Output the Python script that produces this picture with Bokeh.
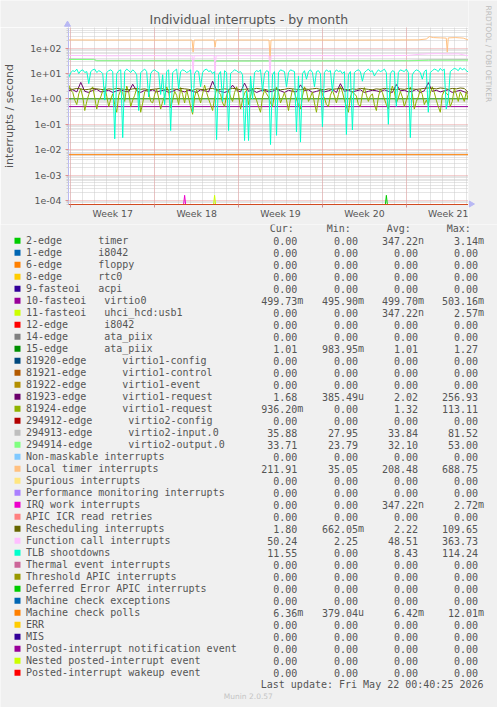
import re
import math
from datetime import datetime, timedelta
import numpy as np
from bokeh.plotting import figure
from bokeh.layouts import column, row
from bokeh.models import Range1d, FixedTicker, Grid, CustomJSTickFormatter
from bokeh.embed import file_html
from bokeh.resources import INLINE
from bokeh.core.properties import value

# ---------------- data ----------------
X_START = datetime(2026, 4, 18, 19, 25)
X_END = datetime(2026, 5, 22, 4, 30)
DATA_START = datetime(2026, 4, 18, 20, 0)
Y_MIN, Y_MAX = 6.96e-5, 654.0

TITLE = "Individual interrupts - by month"
Y_LABEL = "interrupts / second"
WATERMARK = "RRDTOOL / TOBI OETIKER"
WEEK_STARTS = [datetime(2026, 4, 19), datetime(2026, 4, 26), datetime(2026, 5, 3),
               datetime(2026, 5, 10), datetime(2026, 5, 17)]
WEEK_LABELS = ["Week 17", "Week 18", "Week 19", "Week 20", "Week 21"]
Y_TICKS = [1e-4, 1e-3, 1e-2, 1e-1, 1e0, 1e1, 1e2]
Y_TICK_LABELS = ["1e-04", "1e-03", "1e-02", "1e-01", "1e+00", "1e+01", "1e+02"]

LABELS = [
    "2-edge      timer", "1-edge      i8042", "6-edge      floppy", "8-edge      rtc0",
    "9-fasteoi   acpi", "10-fasteoi   virtio0", "11-fasteoi   uhci_hcd:usb1",
    "12-edge      i8042", "14-edge      ata_piix", "15-edge      ata_piix",
    "81920-edge      virtio1-config", "81921-edge      virtio1-control",
    "81922-edge      virtio1-event", "81923-edge      virtio1-request",
    "81924-edge      virtio1-request", "294912-edge      virtio2-config",
    "294913-edge      virtio2-input.0", "294914-edge      virtio2-output.0",
    "Non-maskable interrupts", "Local timer interrupts", "Spurious interrupts",
    "Performance monitoring interrupts", "IRQ work interrupts", "APIC ICR read retries",
    "Rescheduling interrupts", "Function call interrupts", "TLB shootdowns",
    "Thermal event interrupts", "Threshold APIC interrupts", "Deferred Error APIC interrupts",
    "Machine check exceptions", "Machine check polls", "ERR", "MIS",
    "Posted-interrupt notification event", "Nested posted-interrupt event",
    "Posted-interrupt wakeup event",
]
COLORS = [
    "#00CC00", "#0066B3", "#FF8000", "#FFCC00", "#330099", "#990099", "#CCFF00", "#FF0000",
    "#808080", "#008F00", "#00487D", "#B35A00", "#B38F00", "#6B006B", "#8FB300", "#B30000",
    "#BEBEBE", "#80FF80", "#80C9FF", "#FFC080", "#FFE680", "#AA80FF", "#EE00CC", "#FF8080",
    "#666600", "#FFBFFF", "#00FFCC", "#CC6699", "#999900", "#00CC00", "#0066B3", "#FF8000",
    "#FFCC00", "#330099", "#990099", "#CCFF00", "#FF0000",
]
CUR = [0, 0, 0, 0, 0, 0.49973, 0, 0, 0, 1.01, 0, 0, 0, 1.68, 0.9362, 0, 35.88, 33.71, 0,
       211.91, 0, 0, 0, 0, 1.80, 50.24, 11.55, 0, 0, 0, 0, 0.00636, 0, 0, 0, 0, 0]
MIN = [0, 0, 0, 0, 0, 0.4959, 0, 0, 0, 0.98395, 0, 0, 0, 385.49e-6, 0, 0, 27.95, 23.79, 0,
       35.05, 0, 0, 0, 0, 0.66205, 2.25, 0, 0, 0, 0, 0, 379.04e-6, 0, 0, 0, 0, 0]
AVG = [347.22e-9, 0, 0, 0, 0, 0.4997, 347.22e-9, 0, 0, 1.01, 0, 0, 0, 2.02, 1.32, 0, 33.84,
       32.10, 0, 208.48, 0, 0, 347.22e-9, 0, 2.22, 48.51, 8.43, 0, 0, 0, 0, 6.42e-3, 0, 0, 0, 0, 0]
MAX = [3.14e-3, 0, 0, 0, 0, 0.50316, 2.57e-3, 0, 0, 1.27, 0, 0, 0, 256.93, 113.11, 0, 81.52,
       53.00, 0, 688.75, 0, 0, 2.72e-3, 0, 109.65, 363.73, 114.24, 0, 0, 0, 0, 12.01e-3, 0, 0, 0, 0, 0]
HEADERS = ["Cur:", "Min:", "Avg:", "Max:"]
LAST_UPDATE = "Last update: Fri May 22 00:40:25 2026"
VERSION = "Munin 2.0.57"

# --- series sampled every 4 hours from DATA_START ---
TLB = [7, 11, 13, 12, 15, 10, 13, 14, 11, 12,
       4, 12, 14, 15, 11, 13, 12, 10, 0.9, 11,
       13, 14, 12, 0.027, 10, 13, 14, 0.03, 12, 15,
       13, 11, 14, 12, 9, 0.35, 11, 13, 15, 12,
       1.2, 10, 13, 14, 12, 11, 1.5, 9, 0.6, 12,
       14, 0.057, 11, 13, 15, 2.5, 12, 14, 13, 11,
       12, 14, 0.3, 10, 13, 12, 3, 11, 14, 15,
       12, 13, 10, 12, 0.025, 9, 12, 0.8, 13, 11,
       0.057, 10, 12, 14, 13, 11, 12, 9, 0.023, 2,
       0.023, 8, 1.0, 11, 13, 12, 14, 2.0, 10, 13,
       12, 0.016, 9, 12, 0.037, 11, 14, 13, 12, 3,
       11, 14, 13, 12, 0.05, 8, 0.02, 10, 13, 6,
       12, 14, 11, 3, 12, 13, 10, 0.08, 11, 14,
       12, 13, 2, 11, 14, 12, 13, 10, 12, 0.04,
       9, 12, 0.06, 11, 13, 14, 12, 5, 11, 13,
       15, 12, 13, 8, 11, 14, 12, 13, 15, 11,
       0.1, 10, 13, 12, 0.5, 11, 14, 13, 12, 15,
       11, 0.03, 9, 12, 14, 13, 11, 6, 12, 14,
       0.3, 11, 13, 15, 14, 12, 16, 13, 15, 0.4,
       1, 12, 14, 16, 15, 13, 17, 14, 16, 13, 11.55]
VIRTIO1_REQ_B = [3.5, 2.2, 1.8, 0.9, 0.6, 1.6, 2.5, 1.2, 0.35, 0.8,
                 1.5, 2.4, 3.0, 1.1, 0.4, 0.9, 1.2, 2.1, 2.8, 1.3,
                 0.5, 1.0, 1.6, 0.6, 0.3, 1.4, 2.2, 1.8, 0.8, 3.2,
                 1.9, 0.5, 0.9, 1.4, 2.6, 1.7, 0.3, 0.7, 1.9, 2.3,
                 1.9, 0.8, 0.7, 1.5, 2.4, 1.1, 0.4, 0.8, 1.3, 3.0,
                 2.0, 0.45, 0.9, 2.0, 1.4, 0.6, 2.8, 1.5, 0.7, 2.3,
                 1.1, 0.5, 0.25, 1.2, 2.3, 1.3, 0.7, 1.6, 3.5, 1.8,
                 1.0, 0.6, 0.35, 1.1, 2.5, 1.9, 1.5, 0.7, 0.5, 1.4,
                 2.1, 1.2, 0.8, 1.8, 3.0, 1.6, 0.4, 0.9, 1.7, 2.2,
                 0.6, 1.3, 2.7, 1.4, 0.9, 0.5, 0.3, 1.2, 2.2, 1.6,
                 1.2, 0.7, 0.5, 1.5, 2.9, 1.8, 0.7, 1.1, 1.8, 0.9,
                 0.35, 1.0, 2.4, 1.7, 1.0, 0.6, 0.4, 1.3, 3.0, 2.0,
                 0.8, 1.2, 1.9, 0.7, 0.3, 1.1, 2.6, 1.5, 1.1, 0.6,
                 0.5, 1.4, 2.2, 1.3, 0.7, 1.5, 3.1, 1.9, 0.9, 0.5,
                 0.3, 1.2, 2.0, 1.6, 1.3, 0.6, 0.5, 1.6, 2.8, 1.4,
                 0.8, 1.3, 1.6, 0.6, 0.35, 1.2, 2.5, 1.8, 1.0, 0.6,
                 0.4, 1.5, 3.2, 1.9, 0.7, 1.1, 2.0, 1.2, 0.5, 0.9,
                 1.5, 2.9, 1.6, 0.4, 0.8, 1.2, 2.4, 1.5, 0.6, 0.9,
                 0.6, 1.7, 3.0, 1.8, 0.9, 0.5, 0.3, 1.4, 2.1, 1.7,
                 1.4, 0.5, 0.8, 2.6, 1.6, 0.8, 1.9, 1.3, 0.8, 1.9, 0.94]
# --- series sampled every 8 hours from DATA_START ---
VIRTIO1_REQ_A = [2.1, 2.3, 1.9, 4.5, 2.0, 1.8, 2.2, 2.4, 1.9, 2.0,
                 2.2, 1.8, 2.1, 2.3, 2.0, 1.9, 3.8, 2.1, 1.8, 2.2,
                 2.0, 2.3, 1.9, 2.1, 2.2, 1.8, 2.0, 2.4, 2.1, 1.9,
                 2.2, 2.0, 1.8, 2.3, 2.1, 1.9, 5.0, 2.2, 2.0, 1.8,
                 2.1, 3.5, 2.2, 1.9, 4.2, 2.0, 2.3, 1.8, 2.1, 2.2,
                 1.9, 2.0, 2.4, 2.1, 1.8, 2.2, 2.0, 1.9, 3.6, 2.1,
                 2.3, 1.8, 2.0, 2.2, 1.9, 2.1, 2.4, 1.8, 4.0, 2.0,
                 2.2, 1.9, 2.1, 2.3, 1.8, 2.0, 2.2, 2.1, 1.9, 2.3,
                 2.0, 1.8, 3.7, 2.1, 2.2, 1.9, 2.0, 2.4, 1.8, 2.1,
                 4.4, 2.0, 2.2, 1.9, 2.1, 2.3, 1.8, 2.0, 2.2, 1.9, 1.68]
RESCHED = [2.5, 2.4, 2.6, 2.5, 2.3, 2.4, 2.6, 2.5, 2.4, 2.3,
           2.5, 2.4, 2.6, 2.5, 2.4, 2.3, 2.5, 2.6, 2.4, 2.5,
           2.3, 2.4, 2.5, 2.6, 2.4, 2.3, 2.5, 2.4, 2.6, 2.5,
           2.4, 2.2, 2.5, 2.4, 2.3, 2.5, 2.6, 2.3, 2.4, 2.5,
           2.4, 2.6, 2.5, 2.3, 2.4, 2.5, 2.4, 2.6, 2.5, 2.4,
           2.2, 2.4, 2.5, 2.3, 2.4, 2.6, 2.5, 2.4, 2.3, 2.5,
           2.4, 2.5, 2.6, 2.4, 2.3, 2.5, 2.4, 2.5, 2.6, 2.4,
           2.3, 2.5, 2.4, 2.6, 2.5, 2.4, 2.3, 2.5, 2.4, 2.6,
           2.5, 2.4, 2.3, 2.5, 2.4, 2.6, 2.5, 2.4, 2.5, 2.6,
           2.7, 2.6, 2.5, 2.7, 2.6, 2.4, 2.6, 2.5, 2.7, 2.6, 1.80]
# --- series read at individual times (hours after DATA_START) ---
LOCAL_TIMER_H = [0, 60, 120, 180, 247, 249, 251, 291, 293, 295, 340, 401, 403, 405,
                 480, 560, 640, 700, 716, 722, 730, 745, 756, 758, 760, 775, 790, 800]
LOCAL_TIMER = [212, 210, 211, 209, 210, 70, 210, 211, 110, 210, 211, 210, 35, 210,
               211, 209, 211, 213, 230, 285, 262, 255, 250, 70, 255, 262, 250, 211.91]
CALL_H = [0, 80, 160, 247, 249, 251, 291, 293, 295, 340, 401, 403, 405, 500, 600,
          680, 700, 720, 740, 760, 780, 800]
CALL = [52, 50, 51, 50, 10, 50, 51, 11, 50, 51, 50, 8, 50, 51, 50,
        52, 57, 60, 61, 59, 60, 50.24]
VIRTIO2_H = [0, 50, 56, 291, 293, 295, 680, 720, 800]
VIRTIO2_OUT = [36, 35.5, 32, 32, 26, 31, 32, 33.5, 33.71]
VIRTIO2_IN = [37.5, 37, 33.5, 33.5, 28, 32.5, 33.5, 35, 35.88]
CONST_H = [-1, 801]
VIRTIO0 = [0.4997, 0.4997]
ATA_PIIX_15 = [1.01, 1.01]
MCE_POLLS = [0.0064, 0.0064]
ZERO = [0, 0]
TIMER_SPIKE_H, TIMER_SPIKE = [-1, 634, 636, 638, 801], [0, 0, 1.6e-4, 0, 0]
USB_SPIKE_H, USB_SPIKE = [-1, 290, 292, 294, 801], [0, 0, 1.6e-4, 0, 0]
IRQ_WORK_SPIKE_H, IRQ_WORK_SPIKE = [-1, 230, 232, 234, 801], [0, 0, 1.6e-4, 0, 0]

# ---------------- helpers ----------------
EPOCH = datetime(1970, 1, 1)


def ms(d):
    return (d - EPOCH).total_seconds() * 1000.0


def hours_ms(hours):
    return [ms(DATA_START + timedelta(hours=h)) for h in hours]


def step_ms(n, step):
    return hours_ms([step * i for i in range(n)])


def fmt(v):
    if v == 0:
        return "0.00", ""
    for scale, suf in [(1e3, "k"), (1.0, ""), (1e-3, "m"), (1e-6, "u"), (1e-9, "n")]:
        if abs(v) >= scale * 0.999999:
            return f"{v / scale:.2f}", suf
    return f"{v:.2f}", ""


TEXT = "#555555"
BG = "#F0F0F0"
AXIS_C = "#B8B8F4"


def strip(w, h):
    f = figure(width=w, height=h, title=None, output_backend="svg", toolbar_location=None,
               x_range=Range1d(0, w), y_range=Range1d(h, 0), x_axis_type=None,
               y_axis_type=None, min_border=0)
    f.background_fill_color = BG
    f.border_fill_color = BG
    f.outline_line_color = None
    f.frame_align = False
    return f


series = {
    0: (hours_ms(TIMER_SPIKE_H), TIMER_SPIKE),
    5: (hours_ms(CONST_H), VIRTIO0),
    6: (hours_ms(USB_SPIKE_H), USB_SPIKE),
    9: (hours_ms(CONST_H), ATA_PIIX_15),
    13: (step_ms(len(VIRTIO1_REQ_A), 8), VIRTIO1_REQ_A),
    14: (step_ms(len(VIRTIO1_REQ_B), 4), VIRTIO1_REQ_B),
    16: (hours_ms(VIRTIO2_H), VIRTIO2_IN),
    17: (hours_ms(VIRTIO2_H), VIRTIO2_OUT),
    19: (hours_ms(LOCAL_TIMER_H), LOCAL_TIMER),
    22: (hours_ms(IRQ_WORK_SPIKE_H), IRQ_WORK_SPIKE),
    24: (step_ms(len(RESCHED), 8), RESCHED),
    25: (hours_ms(CALL_H), CALL),
    26: (step_ms(len(TLB), 4), TLB),
    31: (hours_ms(CONST_H), MCE_POLLS),
}

# ---------------- geometry (page pixels) ----------------
PAGE_W, PAGE_H = 497, 707
FRAME_L, FRAME_R, FRAME_T, FRAME_B = 67, 468, 27, 204
TOP_H = 224

# ---------------- title strip ----------------
title_fig = strip(FRAME_R, FRAME_T)
title_fig.text(x=[248.3], y=[19.0], text=[TITLE], text_font=value("DejaVu Sans"),
               text_font_size="12.5px", text_color=TEXT, text_align="center",
               text_baseline="middle")
title_fig.scatter(x=[FRAME_L], y=[24], marker="triangle", size=6, fill_color=AXIS_C,
                  line_color=AXIS_C)

# ---------------- chart ----------------
p = figure(width=FRAME_R, height=TOP_H - FRAME_T, title=None, output_backend="svg",
           toolbar_location=None,
           x_range=Range1d(ms(X_START), ms(X_END)), y_range=Range1d(Y_MIN, Y_MAX),
           y_axis_type="log", min_border_left=FRAME_L, min_border_right=0,
           min_border_top=0, min_border_bottom=TOP_H - FRAME_B)
p.frame_align = False
p.background_fill_color = "#FFFFFF"
p.border_fill_color = BG
p.outline_line_color = None
p.grid.visible = False

day_ticks = [ms(datetime(2026, 4, 19) + timedelta(days=k)) for k in range(34)]
week_ticks = [ms(d) for d in WEEK_STARTS]
week_centers = [ms(d + timedelta(days=3.5)) for d in WEEK_STARTS]
y_minor = [m * 10.0 ** e for e in range(-5, 3) for m in range(2, 10) if Y_MIN <= m * 10.0 ** e <= Y_MAX]

MINOR_C = "#CACACA"
MAJOR_C = "#EBA0A0"
for dim, ticks, col in [(0, day_ticks, MINOR_C), (1, y_minor, MINOR_C),
                        (0, week_ticks, MAJOR_C), (1, Y_TICKS, MAJOR_C)]:
    p.add_layout(Grid(dimension=dim, ticker=FixedTicker(ticks=ticks), grid_line_color=col,
                      grid_line_dash="1 1", grid_line_width=1))

for idx in range(len(LABELS)):
    xs, ys = series.get(idx, (hours_ms(CONST_H), ZERO))
    yy = np.maximum(np.asarray(ys, dtype=float), Y_MIN)
    p.line(xs, yy, line_color=COLORS[idx], line_width=1)

xa = p.xaxis[0]
xa.ticker = FixedTicker(ticks=week_centers, minor_ticks=week_ticks)
xa.formatter = CustomJSTickFormatter(args=dict(wticks=week_centers, wlabels=WEEK_LABELS), code="""
let b = 0;
for (let i = 0; i < wticks.length; i++) { if (Math.abs(wticks[i]-tick) < Math.abs(wticks[b]-tick)) b = i; }
return wlabels[b];
""")
xa.major_tick_line_color = None
xa.major_tick_out = 0
xa.major_tick_in = 0
xa.minor_tick_out = 3
xa.minor_tick_in = 0
xa.minor_tick_line_color = "#D09090"
xa.major_label_standoff = 0
xa.axis_line_color = None

ya = p.yaxis[0]
ya.ticker = FixedTicker(ticks=Y_TICKS, minor_ticks=y_minor)
ya.formatter = CustomJSTickFormatter(args=dict(yticks=Y_TICKS, ylabels=Y_TICK_LABELS), code="""
let b = 0;
const lt = Math.log10(tick);
for (let i = 0; i < yticks.length; i++) { if (Math.abs(Math.log10(yticks[i])-lt) < Math.abs(Math.log10(yticks[b])-lt)) b = i; }
return ylabels[b];
""")
ya.major_tick_out = 3
ya.major_tick_in = 0
ya.major_tick_line_color = "#E09090"
ya.minor_tick_out = 2
ya.minor_tick_in = 0
ya.minor_tick_line_color = "#D0D0D0"
ya.major_label_standoff = 4
ya.axis_line_color = AXIS_C
ya.axis_label = Y_LABEL
ya.axis_label_text_font = "DejaVu Sans"
ya.axis_label_text_font_size = "11px"
ya.axis_label_text_font_style = "normal"
ya.axis_label_text_color = TEXT
ya.axis_label_standoff = 11

for ax in (xa, ya):
    ax.major_label_text_font = "DejaVu Sans"
    ax.major_label_text_font_size = "9.33px"
    ax.major_label_text_color = TEXT

# ---------------- right strip (watermark + x arrow) ----------------
side = strip(PAGE_W - FRAME_R, TOP_H)
side.text(x=[19.8], y=[5], text=[WATERMARK], angle=-math.pi / 2, text_font=value("DejaVu Sans"),
          text_font_size="7.5px", text_color="#BDBDBD", text_align="left",
          text_baseline="middle")
side.scatter(x=[2.5], y=[FRAME_B - 0.5], marker="triangle", angle=-math.pi / 2, size=6,
             fill_color=AXIS_C, line_color=AXIS_C)

# ---------------- legend ----------------
LH = PAGE_H - TOP_H
lg = strip(PAGE_W, LH)
CW = 6.02
MONO = value("DejaVu Sans Mono")
OY = TOP_H
mid = [240.0 - OY + 12 * k for k in range(len(LABELS))]

names, devs, dev_x, dev_y = [], [], [], []
for lab, c in zip(LABELS, mid):
    m = re.search(r"\s{2,}", lab)
    if m:
        names.append(lab[:m.start()])
        devs.append(lab[m.end():])
        dev_x.append(25.5 + CW * m.end())
        dev_y.append(c)
    else:
        names.append(lab)

lg.rect(x=[17] * len(LABELS), y=[c + 0.3 for c in mid], width=6, height=6,
        fill_color=COLORS, line_color=None)
lg.text(x=[25.5] * len(names), y=mid, text=names, text_font=MONO, text_font_size="10px",
        text_color=TEXT, text_align="left", text_baseline="middle")
lg.text(x=dev_x, y=dev_y, text=devs, text_font=MONO, text_font_size="10px",
        text_color=TEXT, text_align="left", text_baseline="middle")

lg.text(x=[281.2, 338.3, 398.3, 458.3], y=[227.9 - OY] * 4, text=HEADERS, text_font=MONO,
        text_font_size="10px", text_color=TEXT, text_align="center", text_baseline="middle")

col_right = [296.8, 357.6, 417.6, 477.6]
for cx, vals in zip(col_right, [CUR, MIN, AVG, MAX]):
    nums, sufs, sy = [], [], []
    for v, c in zip(vals, mid):
        n, s = fmt(v)
        nums.append(n)
        if s:
            sufs.append(s)
            sy.append(c)
    lg.text(x=[cx] * len(nums), y=mid, text=nums, text_font=MONO, text_font_size="10px",
            text_color=TEXT, text_align="right", text_baseline="middle")
    if sufs:
        lg.text(x=[cx] * len(sufs), y=sy, text=sufs, text_font=MONO, text_font_size="10px",
                text_color=TEXT, text_align="left", text_baseline="middle")

lg.text(x=[483], y=[683.8 - OY], text=[LAST_UPDATE], text_font=MONO, text_font_size="10px",
        text_color=TEXT, text_align="right", text_baseline="middle")
lg.text(x=[247.8], y=[695.5 - OY], text=[VERSION], text_font=value("DejaVu Sans"),
        text_font_size="7.5px", text_color="#C4C4C4", text_align="center",
        text_baseline="middle")

layout = column(row(column(title_fig, p, spacing=0), side, spacing=0), lg, spacing=0)
open("out.html", "w").write(file_html(layout, INLINE))
